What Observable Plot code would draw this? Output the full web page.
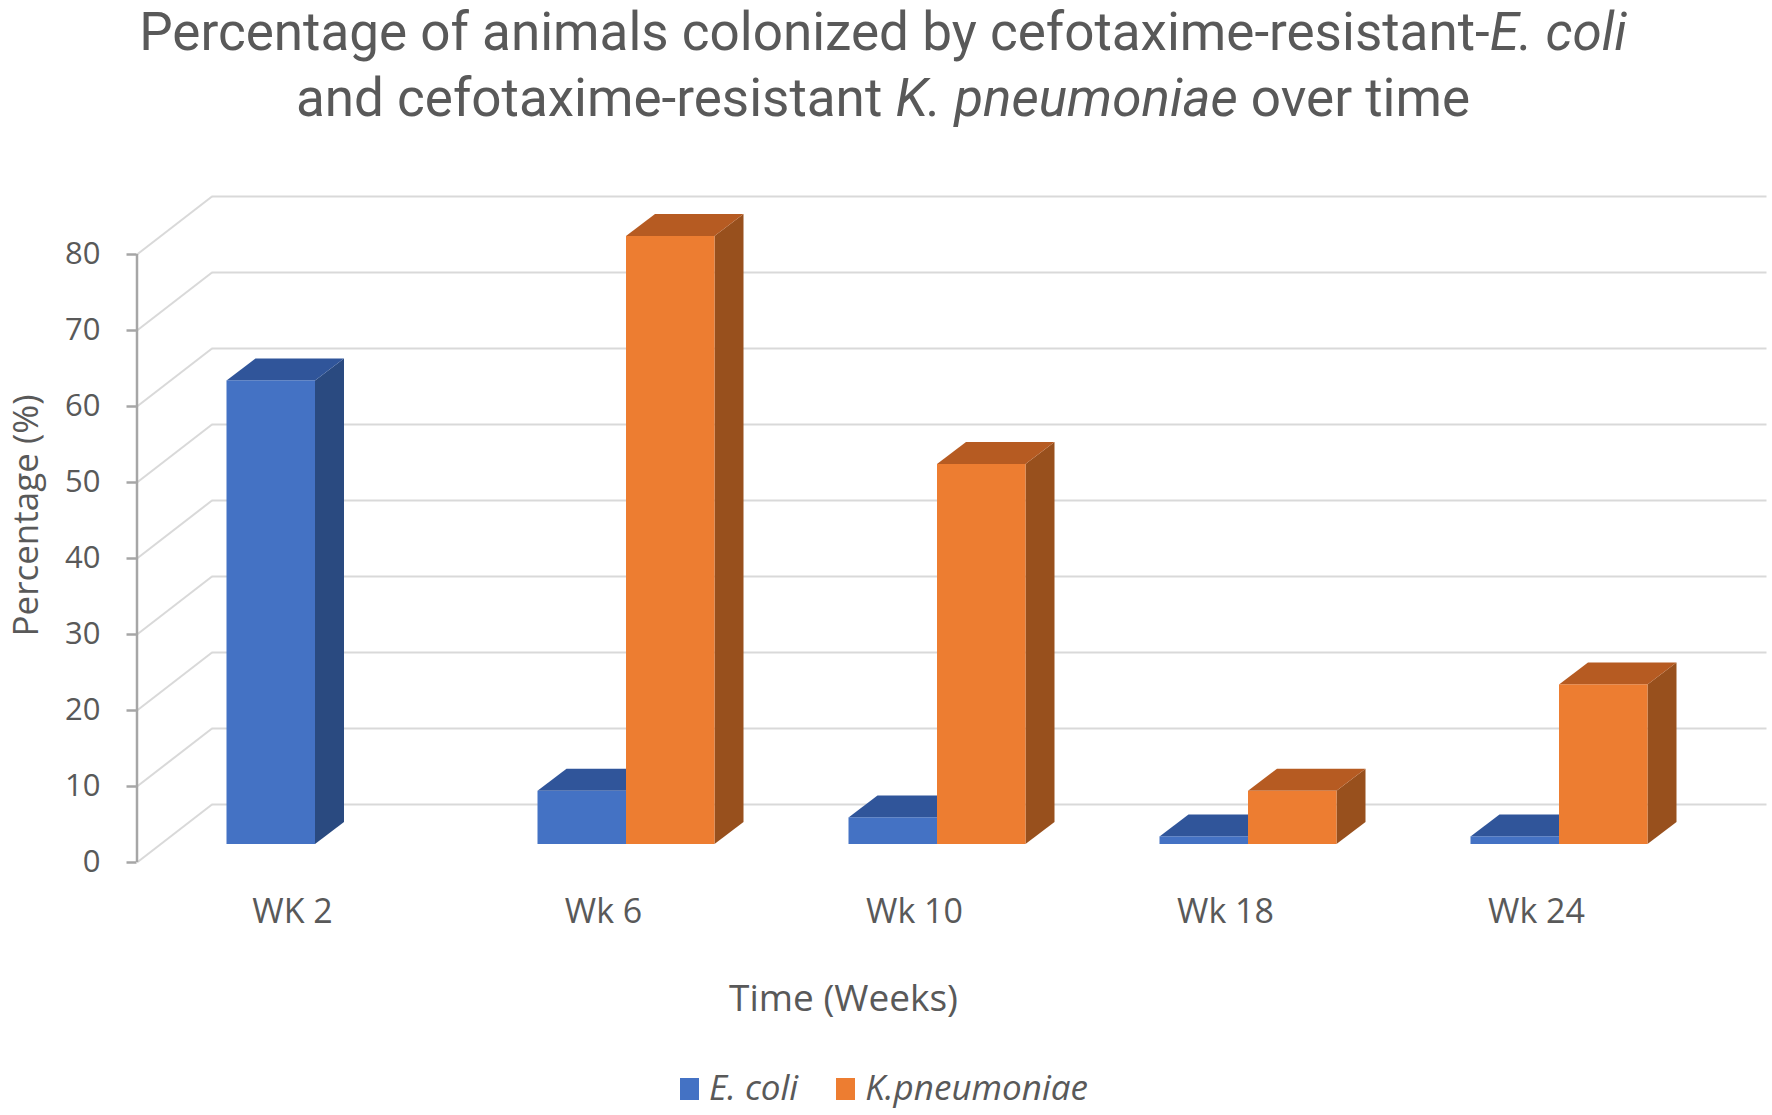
<!DOCTYPE html>
<html>
<head>
<meta charset="utf-8">
<script src="https://cdn.jsdelivr.net/npm/d3@7"></script>
<script src="https://cdn.jsdelivr.net/npm/@observablehq/plot@0.6"></script>
<style>
  html, body { margin: 0; padding: 0; background: #fff; }
  body { width: 1772px; height: 1115px; overflow: hidden; font-family: "Open Sans", sans-serif; color: #595959; }
  #title { position: relative; height: 175px; }
  #title .line { position: absolute; left: 0; width: 1766px; text-align: center; white-space: nowrap; color: #595959; font-family: Roboto, sans-serif; }
  #chart { height: 870px; }
  #chart svg { display: block; }
  #legend { position: relative; height: 70px; }
  #legend .row { position: absolute; left: 0; width: 1768px; display: flex; justify-content: center; align-items: baseline; line-height: 1.4; font-size: 35px; font-style: italic; color: #595959; }
  #legend .sq { display: inline-block; width: 19px; height: 22px; margin-right: 10px; }
  #legend .gap { display: inline-block; width: 38px; }
</style>
</head>
<body>
<div id="title"></div>
<div id="chart"></div>
<div id="legend"></div>
<script>
// ---------- data ----------
const weeks = ["WK 2", "Wk 6", "Wk 10", "Wk 18", "Wk 24"];
const ecoli = [61, 7, 3.5, 1, 1];
const kpneumoniae = [0, 80, 50, 7, 21];
const yTicks = [0, 10, 20, 30, 40, 50, 60, 70, 80];
const seriesNames = ["E. coli", "K.pneumoniae"];
const titleLine1 = [["Percentage of animals colonized by cefotaxime-resistant-", false], ["E. coli", true]];
const titleLine2 = [["and cefotaxime-resistant ", false], ["K. pneumoniae", true], [" over time", false]];
const xTitle = "Time (Weeks)";
const yTitle = "Percentage (%)";

// ---------- styles ----------
const frontColor = ["#4472C4", "#ED7D31"];
const topColor = ["#30559A", "#B65B22"];
const sideColor = ["#2A4A80", "#98501D"];
const textColor = "#595959";
const gridColor = "#D9D9D9";
const axisColor = "#A6A6A6";

// ---------- title ----------
const TFONT = "Roboto";
const ctx = document.createElement("canvas").getContext("2d");
function measure(parts, fs) {
  let w = 0;
  for (const [t, it] of parts) { ctx.font = `${it ? "italic " : ""}${fs}px ${TFONT}`; w += ctx.measureText(t).width; }
  return w;
}
const titleFs = 45 * 1488 / measure(titleLine1, 45);
ctx.font = `${titleFs}px ${TFONT}`;
const m = ctx.measureText("Percentage");
const asc = m.fontBoundingBoxAscent || 0.928 * titleFs;
const desc = m.fontBoundingBoxDescent || 0.244 * titleFs;
const titleEl = document.getElementById("title");
[[titleLine1, 46], [titleLine2, 116]].forEach(([parts, baseline]) => {
  const div = document.createElement("div");
  div.className = "line";
  div.style.fontSize = titleFs + "px";
  div.style.lineHeight = (asc + desc) + "px";
  div.style.top = Math.max(1, baseline - asc) + "px";
  for (const [t, it] of parts) {
    const s = document.createElement(it ? "i" : "span");
    s.textContent = t;
    div.appendChild(s);
  }
  titleEl.appendChild(div);
});

// ---------- geometry (pixels) ----------
const W = 1772, H = 870;
const mL = 136.5, mR = 80.5, mT = 79, mB = 183;
const pxX = (W - mR - mL) / 5;           // px per week slot
const pxY = (H - mB - mT) / 80;          // px per percent
const wallDX = 75, wallDY = 58;          // depth of the back wall
const planeDX = 23, planeDY = 18;        // bars' front plane
const barW = 88.5 / pxX;
const depX = 29 / pxX, depY = 22 / pxY;  // bar depth

const values = [ecoli, kpneumoniae];
const bars = [];
values.forEach((vals, s) => vals.forEach((v, i) => {
  if (v > 0) bars.push({id: `${s}-${i}`, s, i, v, y0: 0,
    x1: s === 0 ? i - barW : i, x2: s === 0 ? i : i + barW});
}));
const tops = bars.flatMap(b => [
  {id: b.id, s: b.s, y: b.v, x1: b.x1, x2: b.x2},
  {id: b.id, s: b.s, y: b.v + depY, x1: b.x1 + depX, x2: b.x2 + depX}
]);
const sides = bars.flatMap(b => [
  {id: b.id, s: b.s, x: b.x2, y1: 0, y2: b.v},
  {id: b.id, s: b.s, x: b.x2 + depX, y1: depY, y2: b.v + depY}
]);

const barMarks = [0, 1].flatMap(s => [
  Plot.areaY(sides.filter(d => d.s === s), {x: "x", y1: "y1", y2: "y2", z: "id", fill: sideColor[s], dx: planeDX, dy: -planeDY}),
  Plot.areaX(tops.filter(d => d.s === s), {y: "y", x1: "x1", x2: "x2", z: "id", fill: topColor[s], dx: planeDX, dy: -planeDY}),
  Plot.rect(bars.filter(d => d.s === s), {x1: "x1", x2: "x2", y1: "y0", y2: "v", fill: frontColor[s], dx: planeDX, dy: -planeDY})
]);

const chart = Plot.plot({
  width: W, height: H,
  marginLeft: mL, marginRight: mR, marginTop: mT, marginBottom: mB,
  style: {fontFamily: '"Open Sans", sans-serif', background: "white", overflow: "visible"},
  x: {type: "linear", domain: [-0.5, 4.5], axis: null},
  y: {type: "linear", domain: [0, 80], axis: null},
  marks: [
    // back wall gridlines
    Plot.ruleY(yTicks, {y: d => d, x1: () => -0.5, x2: () => 4.5, dx: wallDX, dy: -wallDY, stroke: gridColor, strokeWidth: 2}),
    // side wall diagonals
    Plot.link(yTicks, {x1: () => -0.5, y1: d => d, x2: () => -0.5 + wallDX / pxX, y2: d => d + wallDY / pxY, stroke: gridColor, strokeWidth: 2}),
    // y axis line and ticks
    Plot.ruleX([-0.5], {y1: () => 0, y2: () => 80, stroke: axisColor, strokeWidth: 2.5}),
    Plot.ruleY(yTicks, {y: d => d, x1: () => -0.5 - 10 / pxX, x2: () => -0.5, stroke: axisColor, strokeWidth: 2.5}),
    Plot.text(yTicks, {y: d => d, frameAnchor: "left", text: d => String(d), textAnchor: "end", lineAnchor: "middle", dx: -36.5, fontSize: 31, fill: textColor}),
    ...barMarks,
    // category labels
    Plot.text(weeks.map((_, i) => i), {x: d => d, frameAnchor: "bottom", text: d => weeks[d], textAnchor: "middle", lineAnchor: "bottom", dy: 60.7, fontSize: 34, fill: textColor}),
    // axis titles
    Plot.text([xTitle], {frameAnchor: "bottom", text: d => d, textAnchor: "middle", lineAnchor: "bottom", dx: -71, dy: 148, fontSize: 37, fill: textColor}),
    Plot.text([yTitle], {frameAnchor: "left", text: d => d, rotate: -90, textAnchor: "middle", lineAnchor: "middle", dx: -110, dy: -43, fontSize: 35, fill: textColor})
  ]
});
document.getElementById("chart").appendChild(chart);

// ---------- legend ----------
const legend = document.getElementById("legend");
const row = document.createElement("div");
row.className = "row";
row.style.top = (55 - (0.019 + 1.069) * 35) + "px";
seriesNames.forEach((name, s) => {
  if (s > 0) { const g = document.createElement("span"); g.className = "gap"; row.appendChild(g); }
  const sq = document.createElement("span"); sq.className = "sq"; sq.style.background = frontColor[s];
  const t = document.createElement("span"); t.textContent = name;
  row.appendChild(sq); row.appendChild(t);
});
legend.appendChild(row);
</script>
</body>
</html>
